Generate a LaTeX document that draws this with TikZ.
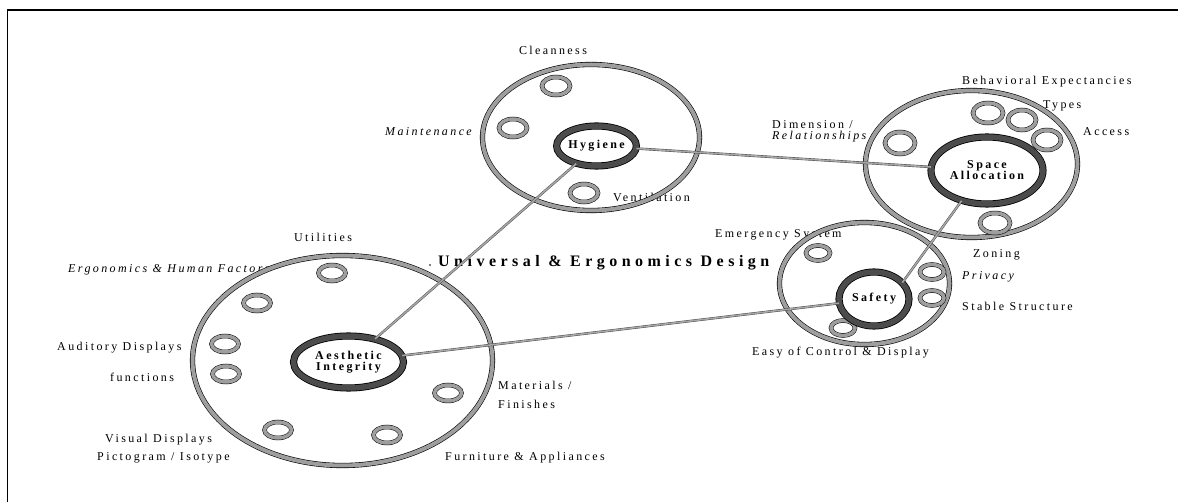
\documentclass[tikz,border=0pt]{standalone}
\usepackage{fontspec}
\setmainfont{Liberation Serif}
\newfontfamily\lblfont[LetterSpace=20]{Liberation Serif}
\newfontfamily\ttlfont[LetterSpace=28]{Liberation Serif}
\usetikzlibrary{shapes.geometric}
\tikzset{
  outring/.style={ellipse, draw=black, line width=0.6pt, double=black!38, double distance=4pt, inner sep=0pt},
  inring/.style={ellipse, draw=black, line width=0.8pt, double=black!70, double distance=5.5pt, fill=white, inner sep=0pt, font=\lblfont\fontsize{12}{12}\selectfont\bfseries, align=center},
  smring/.style={ellipse, draw=black, line width=0.5pt, double=black!38, double distance=3.5pt, inner sep=0pt, minimum width=27pt, minimum height=16pt},
  link/.style={draw=black!75, line width=0.4pt, double=black!35, double distance=1.6pt},
  lbl/.style={inner sep=0pt, font=\lblfont\fontsize{12}{12}\selectfont},
  ilbl/.style={lbl, font=\lblfont\fontsize{12}{12}\selectfont\itshape},
  ttl/.style={inner sep=0pt, font=\ttlfont\fontsize{16}{16}\selectfont\bfseries},
}
\begin{document}
\begin{tikzpicture}[x=1pt,y=-1pt]
\useasboundingbox (0,0) rectangle (1178,502);
% frame
\draw[line width=1.2pt] (7.5,502) -- (7.5,10) -- (1178,10);

% labels (drawn first so rings may overlap)
\node[lbl] (lutil) at (323,237) {Utilities};
\node[ilbl, anchor=west] (lerg) at (68,270) {Ergonomics \& Human Factors};
\node[lbl, anchor=west] (laud) at (57,348) {Auditory Displays};
\node[lbl, anchor=west] (lfun) at (110,377) {functions};
\node[lbl, anchor=west] (lvis) at (105,440) {Visual Displays};
\node[lbl, anchor=west] (lpic) at (97,458) {Pictogram / Isotype};
\node[lbl, anchor=west] (lmat) at (498,385) {Materials /};
\node[lbl, anchor=west] (lfin) at (498,404) {Finishes};
\node[lbl, anchor=west] (lfur) at (445,458) {Furniture \& Appliances};
\node[lbl] (lcle) at (553,50) {Cleanness};
\node[ilbl, anchor=east] (lmai) at (472,132) {Maintenance};
\node[lbl, anchor=west] (lven) at (613,197) {Ventilation};
\node[lbl, anchor=west] (lbeh) at (962,82) {Behavioral Expectancies};
\node[lbl, anchor=west] (ltyp) at (1043,106) {Types};
\node[lbl, anchor=west] (lacc) at (1083,132) {Access};
\node[lbl, anchor=west] (ldim) at (772,125) {Dimension /};
\node[ilbl, anchor=west] (lrel) at (772,137) {Relationships};
\node[lbl, anchor=west] (lzon) at (973,255) {Zoning};
\node[lbl, anchor=west] (lemg) at (715,235) {Emergency System};
\node[ilbl, anchor=west] (lpri) at (962,277) {Privacy};
\node[lbl, anchor=west] (lsta) at (962,306) {Stable Structure};
\node[lbl, anchor=west] (leas) at (752,353) {Easy of Control \& Display};
\node[ttl, anchor=west] (title) at (438,263) {Universal \& Ergonomics Design};
\fill (430,265) circle (0.9pt);

% outer rings
\node[outring, minimum width=300pt, minimum height=210pt] (aeo) at (342.5,360.5) {};
\node[outring, minimum width=217pt, minimum height=146pt] (hyo) at (591,137.5) {};
\node[outring, minimum width=212pt, minimum height=147pt] (spo) at (971.5,164) {};
\node[outring, minimum width=170pt, minimum height=122pt] (sfo) at (864.5,283.5) {};

% small rings
\node[smring] (a1) at (332,273) {};
\node[smring] (a2) at (257,303) {};
\node[smring] (a3) at (225,344) {};
\node[smring] (a4) at (226,374) {};
\node[smring] (a5) at (278,430) {};
\node[smring] (a6) at (387,435) {};
\node[smring] (a7) at (448,393) {};
\node[smring, minimum width=28pt, minimum height=18pt] (h1) at (556,86) {};
\node[smring, minimum width=28pt, minimum height=18pt] (h2) at (513,128) {};
\node[smring, minimum width=28pt, minimum height=18pt] (h3) at (584,193) {};
\node[smring, minimum width=30pt, minimum height=22pt] (s1) at (900,143) {};
\node[smring, minimum width=30pt, minimum height=20pt] (s2) at (988,113) {};
\node[smring, minimum width=28pt, minimum height=20pt] (s3) at (1022,120) {};
\node[smring, minimum width=28pt, minimum height=20pt] (s4) at (1047,140) {};
\node[smring, minimum width=30pt, minimum height=20pt] (s5) at (995,223) {};
\node[smring, minimum width=24pt, minimum height=15pt] (f1) at (818,253) {};
\node[smring, minimum width=24pt, minimum height=15pt] (f2) at (932,272) {};
\node[smring, minimum width=24pt, minimum height=15pt] (f3) at (932,298) {};
\node[smring, minimum width=24pt, minimum height=15pt] (f4) at (843,328) {};

% inner rings
\node[inring, minimum width=110pt, minimum height=52pt] (ae) at (348.5,362) {Aesthetic\\[-1pt]Integrity};
\node[inring, minimum width=75pt, minimum height=40pt] (hy) at (596.5,146) {Hygiene};
\node[inring, minimum width=112pt, minimum height=67pt] (sp) at (987,170.5) {Space\\[-1pt]Allocation};
\node[inring, minimum width=70pt, minimum height=54pt] (sf) at (874,299) {Safety};

% connectors
\draw[link] (ae) -- (hy);
\draw[link] (ae) -- (sf);
\draw[link] (hy) -- (sp);
\draw[link] (sp.230) -- (sf.30);
\end{tikzpicture}
\end{document}
